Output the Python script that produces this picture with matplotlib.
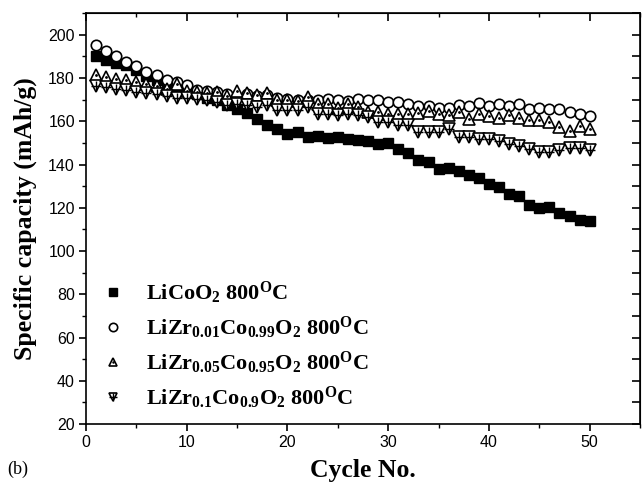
import matplotlib
matplotlib.use("Agg")
import matplotlib.pyplot as plt
from matplotlib.legend_handler import HandlerTuple
from matplotlib.ticker import MultipleLocator

# cycle number and specific capacity (mAh/g)
cycles = list(range(1, 51))

licoo2 = [190.0, 188.5, 187.0, 186.0, 183.5, 181.0, 179.0, 177.5, 176.0, 174.5,
          172.5, 171.0, 169.7, 167.4, 165.8, 163.8, 161.2, 158.1, 156.5, 153.9,
          154.9, 152.9, 153.4, 152.3, 152.6, 151.8, 151.3, 150.8, 149.3, 149.8,
          147.2, 145.2, 142.1, 141.0, 137.9, 138.4, 137.1, 135.2, 133.7, 130.9,
          129.8, 126.2, 125.4, 121.5, 120.0, 120.3, 117.6, 116.1, 114.5, 114.0]

zr001 = [195.4, 192.3, 190.2, 187.6, 185.4, 182.9, 181.4, 179.3, 178.0, 176.7,
         174.7, 174.0, 173.6, 172.5, 171.3, 172.5, 171.6, 172.1, 170.9, 170.4,
         170.0, 169.7, 169.7, 170.4, 170.0, 169.6, 170.3, 169.7, 170.0, 168.9,
         168.9, 168.2, 166.9, 166.9, 166.3, 166.3, 167.4, 166.9, 168.5, 166.9,
         167.9, 166.9, 167.9, 165.8, 166.3, 165.8, 165.8, 164.3, 163.5, 162.3]

zr005 = [181.2, 180.4, 179.6, 179.3, 178.4, 177.3, 176.2, 175.0, 177.3, 173.8,
         173.6, 173.1, 173.4, 171.8, 174.2, 173.0, 172.1, 173.0, 169.8, 169.7,
         169.3, 171.4, 168.0, 168.0, 166.3, 167.8, 166.6, 164.3, 164.3, 163.5,
         163.5, 163.5, 163.8, 164.7, 163.5, 162.7, 164.3, 161.1, 163.2, 162.3,
         161.7, 162.7, 161.7, 160.7, 160.7, 159.6, 157.3, 155.7, 157.6, 156.5]

zr01 = [176.5, 175.7, 175.0, 174.3, 173.6, 173.0, 172.5, 171.8, 171.0, 170.8,
        170.3, 170.0, 169.0, 167.4, 168.2, 167.4, 166.6, 167.4, 165.4, 165.4,
        165.1, 166.6, 163.5, 163.5, 162.7, 163.5, 162.7, 162.0, 159.6, 159.6,
        158.1, 158.1, 155.0, 155.0, 155.0, 156.5, 152.6, 152.6, 151.8, 152.0,
        151.0, 149.5, 148.5, 147.0, 146.0, 146.0, 146.7, 147.5, 147.5, 146.7]

labels = [r"LiCoO$_2$ 800$^{\rm O}$C",
          r"LiZr$_{0.01}$Co$_{0.99}$O$_2$ 800$^{\rm O}$C",
          r"LiZr$_{0.05}$Co$_{0.95}$O$_2$ 800$^{\rm O}$C",
          r"LiZr$_{0.1}$Co$_{0.9}$O$_2$ 800$^{\rm O}$C"]

plt.rcParams['mathtext.fontset'] = 'custom'
plt.rcParams['mathtext.rm'] = 'Liberation Serif:bold'
plt.rcParams['mathtext.it'] = 'Liberation Serif:bold'
plt.rcParams['mathtext.bf'] = 'Liberation Serif:bold'

fig = plt.figure(figsize=(6.42, 4.88), dpi=100)
ax = fig.add_axes([0.134, 0.131, 0.863, 0.842])

ms = 7
h1, = ax.plot(cycles, licoo2, 's', color='black', ms=ms * 0.95, mec='black')
h2, = ax.plot(cycles, zr001, 'o', mfc='white', mec='black', mew=1.2, ms=ms + 0.5)
h3, = ax.plot(cycles, zr005, '^', mfc='white', mec='black', mew=1.2, ms=ms + 1)
h3b, = ax.plot(cycles, zr005, '.', color='black', ms=2)
h4, = ax.plot(cycles, zr01, 'v', mfc='white', mec='black', mew=1.2, ms=ms + 1)
h4b, = ax.plot(cycles, zr01, '+', color='black', mew=1.0, ms=ms)

ax.set_xlim(0, 55)
ax.set_ylim(20, 210)
ax.xaxis.set_major_locator(MultipleLocator(10))
ax.xaxis.set_minor_locator(MultipleLocator(5))
ax.yaxis.set_major_locator(MultipleLocator(20))
ax.yaxis.set_minor_locator(MultipleLocator(10))
ax.set_yticks(range(20, 201, 20))

ax.tick_params(which='major', direction='out', length=5, width=1.2, labelsize=11.5, pad=3)
ax.tick_params(which='minor', direction='out', length=3, width=1.0)
for lbl in ax.get_xticklabels() + ax.get_yticklabels():
    lbl.set_fontfamily('Liberation Sans')
for sp in ax.spines.values():
    sp.set_linewidth(1.2)

# inward ticks on top and right
top = ax.secondary_xaxis('top')
top.xaxis.set_major_locator(MultipleLocator(10))
top.xaxis.set_minor_locator(MultipleLocator(5))
top.tick_params(which='major', direction='in', length=6, width=1.2, labeltop=False)
top.tick_params(which='minor', direction='in', length=3, width=1.0)
right = ax.secondary_yaxis('right')
right.yaxis.set_major_locator(MultipleLocator(10))
right.tick_params(which='major', direction='in', length=6, width=1.2, labelright=False)
right.yaxis.set_minor_locator(MultipleLocator(10))

ax.set_xlabel("Cycle No.", fontsize=18.5, fontweight='bold', fontfamily='Liberation Serif', labelpad=6)
ax.set_ylabel("Specific capacity (mAh/g)", fontsize=18.5, fontweight='bold', fontfamily='Liberation Serif', labelpad=8)

leg = ax.legend([h1, h2, (h3, h3b), (h4, h4b)], labels,
                handler_map={tuple: HandlerTuple(ndivide=1, pad=0)},
                loc='upper left', bbox_to_anchor=(-0.008, 0.40), frameon=False,
                prop={'family': 'Liberation Serif', 'weight': 'bold', 'size': 16},
                handlelength=1.0, handletextpad=1.0, labelspacing=0.4,
                markerscale=0.8)

fig.text(0.012, 0.028, "(b)", fontsize=13, fontfamily='Liberation Serif')

fig.savefig("out.png", dpi=100)
